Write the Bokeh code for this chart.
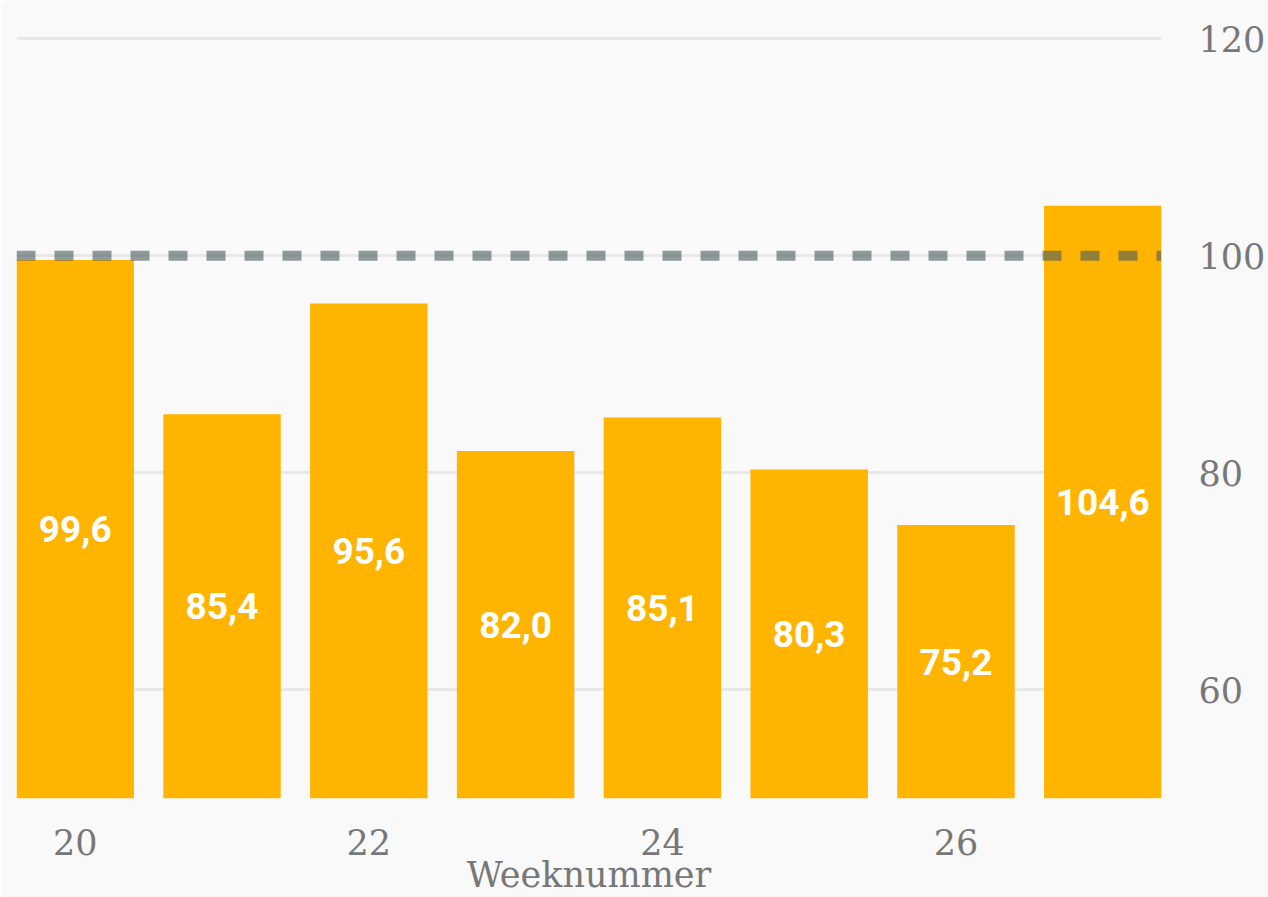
from bokeh.plotting import figure
from bokeh.models import ColumnDataSource, Span, LinearAxis, Range1d, FixedTicker
from bokeh.core.properties import value
from bokeh.embed import file_html
from bokeh.resources import INLINE

weeks = [20, 21, 22, 23, 24, 25, 26, 27]
values = [99.6, 85.4, 95.6, 82.0, 85.1, 80.3, 75.2, 104.6]
labels = ["99,6", "85,4", "95,6", "82,0", "85,1", "80,3", "75,2", "104,6"]
x_ticks = [20, 22, 24, 26]
y_ticks = [60, 80, 100, 120]
x_title = "Weeknummer"
reference_level = 100
baseline = 50

src = ColumnDataSource(dict(
    x=weeks, top=values, bottom=[baseline] * len(values),
    mid=[(baseline + v) / 2 for v in values], label=labels,
))

BG = "#f9f9f9"
p = figure(width=1268, height=897, output_backend="svg", toolbar_location=None,
           x_range=Range1d(19.6, 27.4), y_range=Range1d(baseline, 123.5),
           y_axis_location=None, x_axis_location=None,
           background_fill_color=BG, border_fill_color=BG,
           min_border_left=16, min_border_top=0, min_border_right=105, min_border_bottom=99)
p.outline_line_color = None

p.xgrid.grid_line_color = None
p.ygrid.ticker = FixedTicker(ticks=y_ticks)
p.ygrid.grid_line_color = "#e8e8e8"
p.ygrid.grid_line_width = 3

p.vbar(x="x", top="top", bottom="bottom", width=0.8, source=src,
       fill_color="#FFB400", line_color=None)

p.text(x="x", y="mid", text="label", source=src, text_color="white",
       text_font=value("Roboto"), text_font_size="37px", text_font_style="bold",
       text_align="center", text_baseline="middle")

p.add_layout(Span(location=reference_level, dimension="width", line_color="#4a5a5c",
                  line_alpha=0.6, line_width=10, line_dash="19 19"))

xa = LinearAxis(ticker=FixedTicker(ticks=x_ticks), axis_label=x_title)
xa.axis_line_color = None
xa.major_tick_line_color = None
xa.minor_tick_line_color = None
xa.major_tick_out = 0
xa.major_tick_in = 0
xa.major_label_text_font = "DejaVu Serif"
xa.major_label_text_font_size = "35px"
xa.major_label_text_color = "#777777"
xa.major_label_standoff = 30
xa.axis_label_text_font = "DejaVu Serif"
xa.axis_label_text_font_size = "35px"
xa.axis_label_text_font_style = "normal"
xa.axis_label_text_color = "#777777"
xa.axis_label_standoff = -3
p.add_layout(xa, "below")

ya = LinearAxis(ticker=FixedTicker(ticks=y_ticks))
ya.axis_line_color = None
ya.major_tick_line_color = None
ya.minor_tick_line_color = None
ya.major_tick_out = 0
ya.major_tick_in = 0
ya.major_label_text_font = "DejaVu Serif"
ya.major_label_text_font_size = "35px"
ya.major_label_text_color = "#777777"
ya.major_label_standoff = 37
p.add_layout(ya, "right")

open("out.html", "w").write(file_html(p, INLINE))
